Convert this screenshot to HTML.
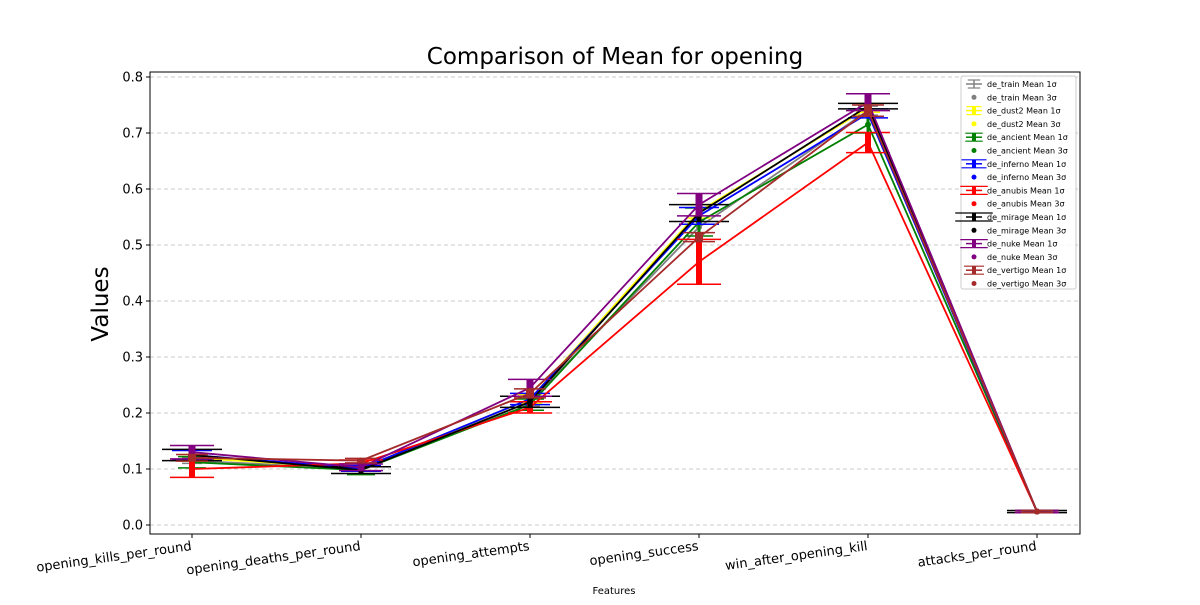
<!DOCTYPE html>
<html><head><meta charset="utf-8"><style>
body{margin:0;background:#fff;font-family:"Liberation Sans","DejaVu Sans",sans-serif;}
svg text{font-family:"DejaVu Sans","Liberation Sans",sans-serif;}
</style></head><body>
<svg id="c" width="1200" height="600" xmlns="http://www.w3.org/2000/svg"></svg>
<script>
const categories=["opening_kills_per_round","opening_deaths_per_round","opening_attempts","opening_success","win_after_opening_kill","attacks_per_round"];
const seriesNames=["de_train","de_dust2","de_ancient","de_inferno","de_anubis","de_mirage","de_nuke","de_vertigo"];
const seriesColors=["gray","yellow","green","blue","red","black","purple","brown"];
const trainVals=[0.115,0.100,0.220,0.532,0.740,0.024];
const dust2Vals=[0.120,0.101,0.225,0.560,0.745,0.024];
const ancientVals=[0.112,0.098,0.215,0.541,0.715,0.024];
const infernoVals=[0.125,0.101,0.225,0.552,0.735,0.024];
const anubisVals=[0.100,0.110,0.210,0.470,0.683,0.024];
const mirageVals=[0.125,0.098,0.220,0.557,0.748,0.024];
const nukeVals=[0.130,0.103,0.245,0.572,0.755,0.024];
const vertigoVals=[0.120,0.115,0.235,0.514,0.740,0.024];
const trainStd=[0.005,0.004,0.008,0.010,0.008,0.002];
const dust2Std=[0.006,0.004,0.008,0.012,0.008,0.002];
const ancientStd=[0.010,0.008,0.010,0.025,0.015,0.002];
const infernoStd=[0.008,0.005,0.010,0.015,0.008,0.002];
const anubisStd=[0.015,0.006,0.010,0.040,0.018,0.002];
const mirageStd=[0.010,0.006,0.010,0.015,0.005,0.002];
const nukeStd=[0.012,0.006,0.015,0.020,0.015,0.002];
const vertigoStd=[0.006,0.004,0.008,0.008,0.010,0.002];
const yTicks=[0,0.1,0.2,0.3,0.4,0.5,0.6,0.7,0.8];
const allVals=[trainVals,dust2Vals,ancientVals,infernoVals,anubisVals,mirageVals,nukeVals,vertigoVals];
const allStd=[trainStd,dust2Std,ancientStd,infernoStd,anubisStd,mirageStd,nukeStd,vertigoStd];
const barW=[1.5,2,3,4,6,5,7,8];
const capHalf=[10,12,14,20,22,30,22,16];

const NS="http://www.w3.org/2000/svg";
const svg=document.getElementById('c');
const L=150,R=1080,T=72,B=534;
function x(i){return 192+i*169;}
function y(v){return 525-v*560;}
function mk(tag,attrs,parent){const e=document.createElementNS(NS,tag);for(const k in attrs)e.setAttribute(k,attrs[k]);(parent||svg).appendChild(e);return e;}

yTicks.forEach(v=>{
  const g=mk('line',{x1:L,x2:R,y1:y(v),y2:y(v),stroke:'#bbb','stroke-dasharray':'4,3','stroke-width':0.8});
  
  
  mk('line',{x1:L-4,x2:L,y1:y(v),y2:y(v),stroke:'#000'});
  const t=mk('text',{x:L-7,y:y(v)+4.5,'text-anchor':'end','font-size':13});
  t.textContent=v.toFixed(1);
  
  
});
categories.forEach((c,i)=>{
  mk('line',{x1:x(i),x2:x(i),y1:B,y2:B+4,stroke:'#000'});
  const t=mk('text',{x:x(i),y:B+16,'text-anchor':'end','font-size':13,transform:`rotate(-8 ${x(i)} ${B+16})`});
  t.textContent=c;
  
  
});
allVals.forEach((vals,s)=>{
  const col=seriesColors[s];
  const g=mk('g',{});
  
  
  mk('polyline',{points:vals.map((v,i)=>x(i)+','+y(v)).join(' '),fill:'none',stroke:col,'stroke-width':1.8},g);
  vals.forEach((v,i)=>{
    const sd=allStd[s][i];
    mk('line',{x1:x(i),x2:x(i),y1:y(v-sd),y2:y(v+sd),stroke:col,'stroke-width':barW[s]},g);
    [v-sd,v+sd].forEach(cv=>mk('line',{x1:x(i)-capHalf[s],x2:x(i)+capHalf[s],y1:y(cv),y2:y(cv),stroke:col,'stroke-width':1.5},g));
    mk('circle',{cx:x(i),cy:y(v),r:3,fill:col},g);
  });
});
mk('rect',{x:L,y:T,width:R-L,height:B-T,fill:'none',stroke:'#000','stroke-width':1});
let t=mk('text',{x:615,y:64,'text-anchor':'middle','font-size':23});t.textContent='Comparison of Mean for opening';

t=mk('text',{x:108,y:304,'text-anchor':'middle','font-size':23,transform:'rotate(-90 108 304)'});t.textContent='Values';

t=mk('text',{x:614,y:594,'text-anchor':'middle','font-size':10});t.textContent='Features';

const lg=mk('g',{});


mk('rect',{x:961,y:76,width:115,height:213,fill:'#fff','fill-opacity':0.85,stroke:'#ccc',rx:2},lg);
seriesNames.forEach((n,s)=>{
  const col=seriesColors[s];
  const y1=84+s*26.6,y2=y1+13.3;
  mk('line',{x1:974,x2:974,y1:y1-4,y2:y1+4,stroke:col,'stroke-width':s==0?1.5:4},lg);
  mk('line',{x1:974-capHalf[s]/1.6,x2:974+capHalf[s]/1.6,y1:y1-4,y2:y1-4,stroke:col,'stroke-width':1.2},lg);
  mk('line',{x1:974-capHalf[s]/1.6,x2:974+capHalf[s]/1.6,y1:y1+4,y2:y1+4,stroke:col,'stroke-width':1.2},lg);
  mk('line',{x1:966,x2:982,y1:y1,y2:y1,stroke:col,'stroke-width':1.5},lg);
  mk('circle',{cx:974,cy:y2,r:2.5,fill:col},lg);
  const a=mk('text',{x:987,y:y1+3,'font-size':8},lg);a.textContent=n+' Mean 1σ';
  
  const b=mk('text',{x:987,y:y2+3,'font-size':8},lg);b.textContent=n+' Mean 3σ';
  
});
</script>
</body></html>
